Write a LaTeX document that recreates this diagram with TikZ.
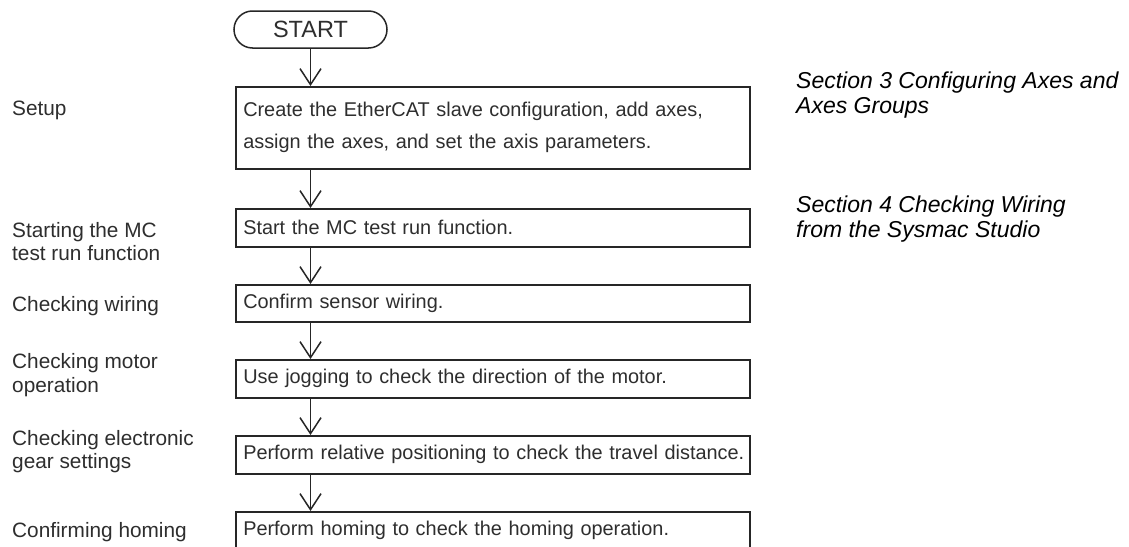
\documentclass[tikz,border=0pt]{standalone}
\usepackage{fontspec}
\setmainfont{Liberation Sans}
\usetikzlibrary{arrows.meta,shapes.misc}
\definecolor{linec}{HTML}{262626}
\definecolor{txt}{HTML}{2E2E2E}
\tikzset{
  stepbox/.style={draw=linec, line width=1.5pt, anchor=north west, inner xsep=7.5pt, inner ysep=0pt,
    text width=499pt, align=left, font=\fontsize{19.9}{32}\selectfont, text=txt},
  startbox/.style={draw=linec, line width=1.5pt, rounded rectangle, minimum width=153pt, minimum height=37pt,
    inner sep=0pt, font=\fontsize{23.5}{26}\selectfont, text=txt},
  flowarrow/.style={draw=linec, line width=1.5pt, -{Straight Barb[length=16pt,width=21pt,line width=1.5pt]}},
  sidelabel/.style={anchor=west, align=left, inner sep=0pt, text=txt, font=\fontsize{20.8}{23.5}\selectfont},
  refnote/.style={anchor=west, align=left, inner sep=0pt, text=black, font=\fontsize{23}{25}\selectfont\itshape}
}
\begin{document}
\begin{tikzpicture}[x=1pt,y=-1pt]
\useasboundingbox (0,0) rectangle (1129,546);
\clip (0,0) rectangle (1129,546);
\fill[white] (0,0) rectangle (1129,546);

\node[startbox] (start) at (310.5,29.5) {START};

\node[stepbox, minimum height=82pt] (b1) at (235,86) {\mbox{Create the EtherCAT slave configuration, add axes,}\\\mbox{assign the axes, and set the axis parameters.}};
\node[stepbox, minimum height=38pt] (b2) at (235,208) {\mbox{Start the MC test run function.}};
\node[stepbox, minimum height=37pt] (b3) at (235,284) {\mbox{Confirm sensor wiring.}};
\node[stepbox, minimum height=38pt] (b4) at (235,359) {\mbox{Use jogging to check the direction of the motor.}};
\node[stepbox, minimum height=38pt] (b5) at (235,435) {\mbox{Perform relative positioning to check the travel distance.}};
\node[stepbox, minimum height=38pt] (b6) at (235,511) {\mbox{Perform homing to check the homing operation.}};

\draw[flowarrow] (start.south) -- (start.south |- b1.north);
\draw[flowarrow] (b1.south -| start.south) -- (b2.north -| start.south);
\draw[flowarrow] (b2.south -| start.south) -- (b3.north -| start.south);
\draw[flowarrow] (b3.south -| start.south) -- (b4.north -| start.south);
\draw[flowarrow] (b4.south -| start.south) -- (b5.north -| start.south);
\draw[flowarrow] (b5.south -| start.south) -- (b6.north -| start.south);

\node[sidelabel] (l1) at (12,110) {Setup};
\node[sidelabel] (l2) at (12,241.5) {Starting the MC\\test run function};
\node[sidelabel] (l3) at (12,306) {Checking wiring};
\node[sidelabel] (l4) at (12,375) {Checking motor\\operation};
\node[sidelabel] (l5) at (12,451.5) {Checking electronic\\gear settings};
\node[sidelabel] (l6) at (12,532) {Confirming homing};

\node[refnote] (r1) at (796,95.5) {Section 3 Configuring Axes and\\Axes Groups};
\node[refnote] (r2) at (796,219.5) {Section 4 Checking Wiring\\from the Sysmac Studio};
\end{tikzpicture}
\end{document}
